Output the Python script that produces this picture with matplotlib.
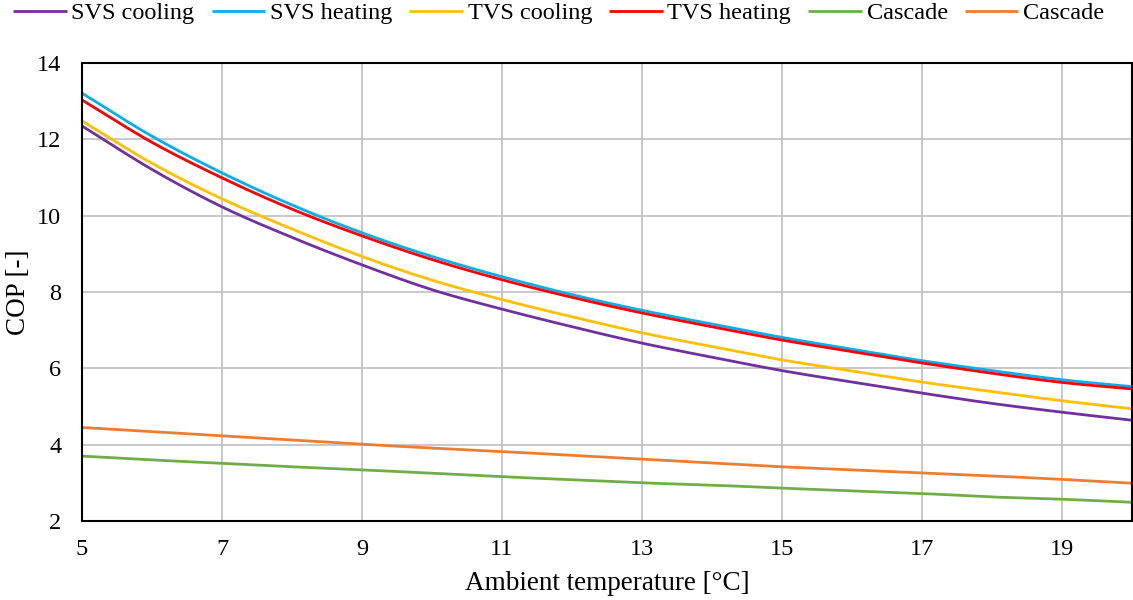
import matplotlib
matplotlib.use("Agg")
import matplotlib.pyplot as plt
import numpy as np

# COP vs ambient temperature for the different system layouts
temp = [5, 6, 7, 8, 9, 10, 11, 12, 13, 14, 15, 16, 17, 18, 19, 20]

svs_cooling = [12.35, 11.21, 10.23, 9.43, 8.71, 8.06, 7.55, 7.09, 6.66, 6.29, 5.94, 5.64, 5.35, 5.08, 4.85, 4.64]
svs_heating = [13.21, 12.08, 11.12, 10.28, 9.55, 8.93, 8.40, 7.93, 7.52, 7.16, 6.81, 6.50, 6.20, 5.94, 5.70, 5.52]
tvs_cooling = [12.48, 11.37, 10.44, 9.65, 8.93, 8.31, 7.80, 7.35, 6.93, 6.57, 6.22, 5.93, 5.64, 5.39, 5.15, 4.94]
tvs_heating = [13.03, 11.92, 10.99, 10.17, 9.47, 8.85, 8.32, 7.86, 7.45, 7.09, 6.74, 6.44, 6.14, 5.87, 5.63, 5.46]
cascade_cooling = [3.70, 3.60, 3.51, 3.42, 3.34, 3.25, 3.16, 3.08, 3.00, 2.94, 2.86, 2.79, 2.72, 2.63, 2.57, 2.49]
cascade_heating = [4.45, 4.34, 4.23, 4.12, 4.01, 3.91, 3.82, 3.72, 3.62, 3.52, 3.42, 3.34, 3.26, 3.18, 3.09, 2.99]

series = [
    ("SVS cooling", svs_cooling, "#7030A0"),
    ("SVS heating", svs_heating, "#00B0F0"),
    ("TVS cooling", tvs_cooling, "#FFC000"),
    ("TVS heating", tvs_heating, "#FF0000"),
    ("Cascade", cascade_cooling, "#70AD47"),
    ("Cascade", cascade_heating, "#ED7D31"),
]


def smooth(x, y, n=20):
    # Catmull-Rom spline through the points (like a smoothed line in a spreadsheet)
    x = np.asarray(x, float)
    y = np.asarray(y, float)
    px = np.concatenate([[2 * x[0] - x[1]], x, [2 * x[-1] - x[-2]]])
    py = np.concatenate([[2 * y[0] - y[1]], y, [2 * y[-1] - y[-2]]])
    xs, ys = [], []
    t = np.linspace(0, 1, n, endpoint=False)
    for i in range(1, len(px) - 2):
        for p, out in ((px, xs), (py, ys)):
            p0, p1, p2, p3 = p[i - 1], p[i], p[i + 1], p[i + 2]
            out.extend(0.5 * (2 * p1 + (-p0 + p2) * t
                              + (2 * p0 - 5 * p1 + 4 * p2 - p3) * t ** 2
                              + (-p0 + 3 * p1 - 3 * p2 + p3) * t ** 3))
    xs.append(x[-1])
    ys.append(y[-1])
    return xs, ys


plt.rcParams['font.family'] = ['Liberation Serif', 'DejaVu Serif']
plt.rcParams['font.size'] = 17.5

fig = plt.figure(figsize=(11.33, 6), dpi=100)
ax = fig.add_axes([0.0724, 0.1317, 0.9267, 0.7633])

for label, vals, color in series:
    sx, sy = smooth(temp, vals)
    ax.plot(sx, sy, color=color, linewidth=2.0, label=label,
            solid_capstyle='butt')

ax.set_xlim(5, 20)
ax.set_ylim(2, 14)
ax.set_xticks(np.arange(5, 20, 2))
ax.set_yticks(np.arange(2, 15, 2))
ax.tick_params(axis='both', length=0, labelsize=17.5)
ax.tick_params(axis='x', pad=13)
ax.tick_params(axis='y', pad=15)

ax.grid(True, color='#BFBFBF', linewidth=1.2)
ax.set_axisbelow(True)
for sp in ax.spines.values():
    sp.set_color('black')
    sp.set_linewidth(1.5)

ax.set_xlabel("Ambient temperature [°C]", fontsize=19.5, labelpad=8)
ax.set_ylabel("COP [-]", fontsize=19.5, labelpad=4)

fig.legend(loc='center', bbox_to_anchor=(0.493, 0.978), ncol=6, frameon=False,
           fontsize=17.5, handlelength=2.2, handletextpad=0.2,
           columnspacing=0.7, borderpad=0)

fig.savefig("out.png", dpi=100)
plt.close(fig)
